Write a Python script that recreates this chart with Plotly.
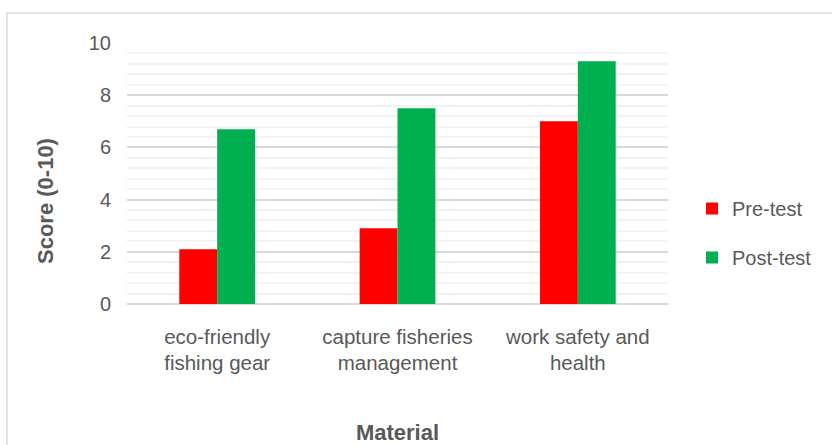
import plotly.graph_objects as go

categories = ["eco-friendly<br>fishing gear", "capture fisheries<br>management", "work safety and<br>health"]
pre_test = [2.1, 2.9, 7.0]
post_test = [6.7, 7.5, 9.3]
series_names = ["Pre-test", "Post-test"]
colors = ["#FF0000", "#00B050"]

FONT = "Liberation Sans, Arial"
GREY = "#595959"

fig = go.Figure()
fig.add_trace(go.Bar(x=categories, y=pre_test, name=series_names[0], marker_color=colors[0],
                     marker_line_width=0, legendgroup="a"))
fig.add_trace(go.Bar(x=categories, y=post_test, name=series_names[1], marker_color=colors[1],
                     marker_line_width=0, legendgroup="b"))

W, H = 832, 445
ml, mr, mt, mb = 127, 164, 43, 141
pw = W - ml - mr
ph = H - mt - mb

fig.update_layout(
    width=W, height=H,
    margin=dict(l=ml, r=mr, t=mt, b=mb, autoexpand=False),
    paper_bgcolor="white", plot_bgcolor="white",
    barmode="group", bargap=0.58, bargroupgap=0,
    font=dict(family=FONT, color=GREY, size=20),
    showlegend=True,
    legend=dict(x=(692 - ml) / pw, xanchor="left", y=(304 - 233) / ph, yanchor="middle",
                font=dict(size=20, color=GREY), tracegroupgap=20, itemwidth=30,
                traceorder="grouped", bgcolor="rgba(0,0,0,0)"),
    xaxis=dict(showgrid=False, showline=False, ticks="", tickfont=dict(size=20.5, color=GREY),
               ticklabelstandoff=18, automargin=False,
               title=dict(text="<b>Material</b>", font=dict(size=22, color=GREY), standoff=52)),
    yaxis=dict(range=[0, 10], dtick=2, showgrid=True, gridcolor="#D9D9D9", gridwidth=1.5,
               zeroline=True, zerolinecolor="#D9D9D9", zerolinewidth=1.5, automargin=False,
               minor=dict(dtick=0.4, showgrid=True, gridcolor="#F2F2F2", gridwidth=1.5),
               tickfont=dict(size=20, color=GREY), ticklabelstandoff=15),
    annotations=[dict(text="<b>Score (0-10)</b>", textangle=-90, xref="paper", yref="paper",
                      x=(45 - ml) / pw, y=(304 - 201) / ph, xanchor="center", yanchor="middle",
                      showarrow=False, font=dict(size=22, color=GREY))],
    shapes=[dict(type="rect", xref="paper", yref="paper",
                 x0=(7 - ml) / pw, x1=(W + 20 - ml) / pw,
                 y0=(304 - (H + 20)) / ph, y1=(304 - 13) / ph,
                 line=dict(color="#D9D9D9", width=1.5), fillcolor="rgba(0,0,0,0)", layer="below")],
)

fig.write_html("out.html")
